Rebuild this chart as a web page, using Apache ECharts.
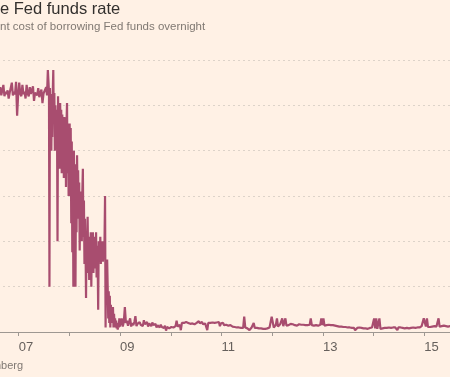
<!DOCTYPE html>
<html>
<head>
<meta charset="utf-8">
<script src="https://cdn.jsdelivr.net/npm/echarts@6.0.0/dist/echarts.min.js"></script>
<style>
  html, body { margin: 0; padding: 0; background: #fff1e5; }
  #chart { width: 450px; height: 377px; }
</style>
</head>
<body>
<div id="chart"></div>
<script>
// effective Fed funds rate, %, a few readings per month
const rates2006 = [ // Aug - Dec
  [5.28, 5.25, 5.4, 5.22],
  [5.25, 5.45, 5.2, 5.3],
  [5.25, 5.33, 5.15, 5.28],
  [5.26, 5.5, 5.22, 5.3],
  [5.24, 5.52, 4.77, 5.25]
]
const rates2007 = [
  [5.5, 5.25, 5.2, 5.45],
  [5.25, 5.3, 5.15, 5.45],
  [5.26, 5.2, 5.4, 5.25],
  [5.24, 5.42, 5.1, 5.28],
  [5.25, 5.22, 5.38, 5.18],
  [5.27, 5.35, 5.05, 5.26],
  [5.25, 5.28, 5.4, 5.22, 5.78],
  [5.78, 5.3, 1.0, 5.38, 4.5, 5.1, 4.0, 5.25, 4.3],
  [5.3, 5.78, 4.6, 5.27, 4.0, 5.0, 4.2, 4.9],
  [4.8, 2.0, 5.2, 4.1, 4.9, 3.6, 5.05, 4.2],
  [4.9, 3.5, 4.8, 4.0, 4.7, 3.4, 4.74, 3.9],
  [4.7, 3.2, 4.6, 5.05, 3.5, 4.6, 3.0, 4.3]
]
const rates2008 = [
  [4.6, 3.0, 4.5, 2.4, 4.2, 1.76, 3.8, 1.0],
  [4.0, 2.6, 3.7, 1.0, 3.4, 2.2, 3.9, 2.8],
  [3.57, 2.5, 3.3, 1.8, 3.1, 2.2, 2.9, 2.0],
  [3.1, 3.6, 2.1, 2.9, 1.5, 2.5, 2.0, 0.75],
  [2.2, 1.3, 2.54, 1.6, 2.0, 1.15, 2.1, 1.8],
  [2.2, 1.0, 2.0, 1.5, 2.2, 1.3, 1.9, 2.1],
  [2.0, 1.4, 2.2, 1.2, 1.9, 1.6, 0.49, 2.0],
  [2.0, 1.6, 2.1, 1.5, 1.9, 1.7, 2.0, 1.55],
  [1.9, 1.6, 2.0, 3.0, 0.1, 1.5, 1.0, 1.6],
  [1.0, 0.3, 0.9, 0.2, 0.8, 0.1, 0.6, 0.3],
  [0.5, 0.2, 0.55, 0.1, 0.4, 0.15, 0.3, 0.1],
  [0.25, 0.08, 0.2, 0.05, 0.15, 0.1, 0.3, 0.12]
]
const rates2009 = [
  [0.15, 0.3, 0.12, 0.22], [0.55, 0.2, 0.25, 0.14], [0.18, 0.3, 0.12, 0.2],
  [0.15, 0.22, 0.35, 0.13], [0.18, 0.14, 0.22, 0.16], [0.2, 0.13, 0.26, 0.17],
  [0.15, 0.22, 0.12, 0.19], [0.16, 0.13, 0.21, 0.15], [0.14, 0.18, 0.1, 0.15],
  [0.12, 0.1, 0.16, 0.11], [0.12, 0.09, 0.14, 0.03], [0.11, 0.13, 0.08, 0.12]
]
const rates2010 = [
  [0.11, 0.13, 0.1, 0.12], [0.13, 0.25, 0.12, 0.14], [0.16, 0.04, 0.2, 0.17],
  [0.2, 0.18, 0.22, 0.19], [0.2, 0.23, 0.18, 0.21], [0.19, 0.22, 0.17, 0.2],
  [0.2, 0.18, 0.24, 0.19], [0.2, 0.22, 0.17, 0.2], [0.19, 0.21, 0.04, 0.2],
  [0.19, 0.2, 0.17, 0.21], [0.19, 0.2, 0.17, 0.21], [0.18, 0.22, 0.13, 0.19]
]
const rates2011 = [
  [0.17, 0.2, 0.15, 0.18], [0.16, 0.18, 0.14, 0.17], [0.15, 0.17, 0.12, 0.14],
  [0.11, 0.13, 0.1, 0.12], [0.1, 0.12, 0.09, 0.11], [0.09, 0.34, 0.1, 0.08],
  [0.08, 0.1, 0.04, 0.08], [0.1, 0.08, 0.2, 0.09], [0.08, 0.09, 0.07, 0.08],
  [0.07, 0.08, 0.06, 0.07], [0.08, 0.07, 0.09, 0.08], [0.07, 0.1, 0.06, 0.34]
]
const rates2012 = [
  [0.34, 0.1, 0.14, 0.16], [0.3, 0.12, 0.15, 0.17], [0.15, 0.3, 0.13, 0.16],
  [0.3, 0.14, 0.16, 0.15], [0.16, 0.18, 0.14, 0.17], [0.16, 0.15, 0.18, 0.14],
  [0.16, 0.17, 0.15, 0.16], [0.14, 0.16, 0.13, 0.15], [0.14, 0.15, 0.13, 0.16],
  [0.3, 0.15, 0.17, 0.14], [0.16, 0.15, 0.17, 0.14], [0.17, 0.16, 0.3, 0.15]
]
const rates2013 = [
  [0.3, 0.14, 0.16, 0.15], [0.15, 0.16, 0.14, 0.15], [0.14, 0.15, 0.13, 0.14],
  [0.15, 0.13, 0.14, 0.12], [0.11, 0.12, 0.1, 0.11], [0.1, 0.11, 0.09, 0.1],
  [0.09, 0.1, 0.08, 0.09], [0.08, 0.09, 0.04, 0.08], [0.09, 0.08, 0.1, 0.07],
  [0.09, 0.1, 0.08, 0.09], [0.08, 0.09, 0.07, 0.08], [0.09, 0.07, 0.1, 0.08]
]
const rates2014 = [
  [0.3, 0.08, 0.3, 0.07], [0.07, 0.3, 0.07, 0.06], [0.08, 0.07, 0.09, 0.08],
  [0.09, 0.08, 0.1, 0.09], [0.09, 0.08, 0.1, 0.09], [0.1, 0.09, 0.04, 0.1],
  [0.09, 0.1, 0.08, 0.09], [0.09, 0.08, 0.1, 0.09], [0.09, 0.08, 0.1, 0.09],
  [0.09, 0.1, 0.08, 0.09], [0.09, 0.1, 0.08, 0.1], [0.12, 0.13, 0.11, 0.3]
]
const rates2015 = [ // Jan - Jul
  [0.3, 0.12, 0.3, 0.11], [0.12, 0.11, 0.13, 0.12], [0.11, 0.13, 0.12, 0.12],
  [0.13, 0.3, 0.12, 0.13], [0.13, 0.12, 0.14, 0.13], [0.13, 0.14, 0.12, 0.14],
  [0.13, 0.14]
]

const yearTicks = [2006, 2007, 2008, 2009, 2010, 2011, 2012, 2013, 2014, 2015, 2016]
const tickLabels = ['', '07', '', '09', '', '11', '', '13', '', '15', '']

// [year, first month index, monthly readings]
const blocks = [
  [2006, 7, rates2006], [2007, 0, rates2007], [2008, 0, rates2008],
  [2009, 0, rates2009], [2010, 0, rates2010], [2011, 0, rates2011],
  [2012, 0, rates2012], [2013, 0, rates2013], [2014, 0, rates2014],
  [2015, 0, rates2015]
]

const seriesData = []
blocks.forEach(([year, first, months]) => {
  months.forEach((vals, m) => {
    vals.forEach((v, i) => {
      seriesData.push([year + (first + m + (i + 0.5) / vals.length) / 12, v])
    })
  })
})

const font = '"Liberation Sans", Arial, sans-serif'
const chart = echarts.init(document.getElementById('chart'), null, {renderer: 'canvas'})

chart.setOption({
  backgroundColor: '#fff1e5',
  animation: false,
  graphic: [
    {type: 'text', left: 0, top: 1, style: {text: 'e Fed funds rate', font: '16.5px ' + font, fill: '#33302e'}},
    {type: 'text', left: 0, top: 21, style: {text: 'nt cost of borrowing Fed funds overnight', font: '11.5px ' + font, fill: '#807973'}},
    {type: 'text', left: -5, top: 360, style: {text: 'nberg', font: '11px ' + font, fill: '#807973'}}
  ],
  grid: {left: -32, right: -25, top: 60, bottom: 45, outerBoundsMode: 'none'},
  xAxis: {
    type: 'value',
    min: yearTicks[0],
    max: yearTicks[yearTicks.length - 1],
    interval: 1,
    axisLine: {lineStyle: {color: '#9e9892', width: 1}},
    axisTick: {length: 4, lineStyle: {color: '#9e9892'}},
    axisLabel: {
      align: 'left',
      margin: 9,
      fontFamily: font,
      fontSize: 13,
      color: '#66605c',
      formatter: v => tickLabels[yearTicks.indexOf(Math.round(v))] || ''
    },
    splitLine: {show: false}
  },
  yAxis: {
    type: 'value',
    min: 0,
    max: 6,
    interval: 1,
    axisLine: {show: false},
    axisTick: {show: false},
    axisLabel: {show: false},
    splitLine: {lineStyle: {color: '#ddd3c9', type: [2, 3], width: 1}}
  },
  series: [{
    type: 'line',
    data: seriesData,
    showSymbol: false,
    silent: true,
    lineStyle: {color: '#a84d6f', width: 2.2},
    z: 3
  }]
})
</script>
</body>
</html>
